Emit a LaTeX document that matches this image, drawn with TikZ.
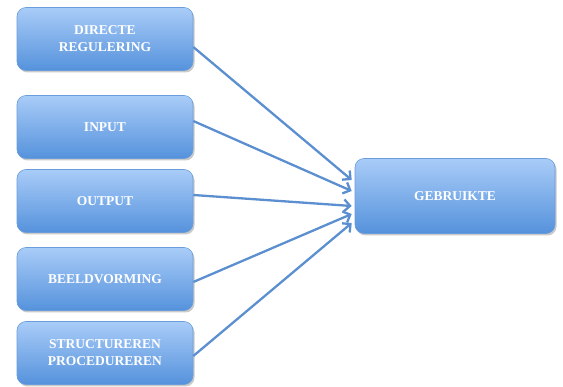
\documentclass[tikz,border=0pt]{standalone}
\usepackage{fontspec}
\setmainfont{Liberation Serif}
\usetikzlibrary{arrows.meta,shadows,calc}
\definecolor{boxtop}{HTML}{A9CCF8}
\definecolor{boxbot}{HTML}{5592DC}
\definecolor{boxline}{HTML}{6B9DDA}
\definecolor{linkblue}{HTML}{5B8FD0}
\tikzset{
  blockbox/.style={rectangle, rounded corners=9pt, draw=boxline, line width=0.6pt,
    top color=boxtop, bottom color=boxbot, text=white, align=center,
    font=\bfseries\fontsize{13.5}{17}\selectfont,
    drop shadow={shadow xshift=1.5pt, shadow yshift=-2pt, opacity=0.35, fill=black!60},
    inner sep=0pt},
  leftbox/.style={blockbox, minimum width=176pt, minimum height=63pt},
  link/.style={draw=linkblue, line width=2.3pt,
    -{Straight Barb[length=6pt,width=12pt,line width=2.3pt]}}
}
\begin{document}
\begin{tikzpicture}[x=1pt,y=-1pt]
  \useasboundingbox (0,0) rectangle (563,387);
  % source blocks
  \node[leftbox] (b1) at (105,39)  {DIRECTE\\REGULERING};
  \node[leftbox] (b2) at (105,127) {INPUT};
  \node[leftbox] (b3) at (105,201) {OUTPUT};
  \node[leftbox] (b4) at (105,279) {BEELDVORMING};
  \node[leftbox] (b5) at (105,353) {STRUCTUREREN\\PROCEDUREREN};
  % target block
  \node[blockbox, minimum width=200pt, minimum height=75pt] (g) at (455,196) {GEBRUIKTE};
  % anchor points on the target's left side
  \coordinate (t1) at ($(g.west)+(-3,-16)$);
  \coordinate (t2) at ($(g.west)+(-3,-5)$);
  \coordinate (t3) at ($(g.west)+(-3,10)$);
  \coordinate (t4) at ($(g.west)+(-3,18)$);
  \coordinate (t5) at ($(g.west)+(-3,27)$);
  % connectors
  \draw[link] ($(b1.east)+(0,8)$) -- (t1);
  \draw[link] ($(b2.east)+(0,-6)$) -- (t2);
  \draw[link] ($(b3.east)+(0,-6)$) -- (t3);
  \draw[link] ($(b4.east)+(0,3)$) -- (t4);
  \draw[link] ($(b5.east)+(0,3)$) -- (t5);
\end{tikzpicture}
\end{document}
